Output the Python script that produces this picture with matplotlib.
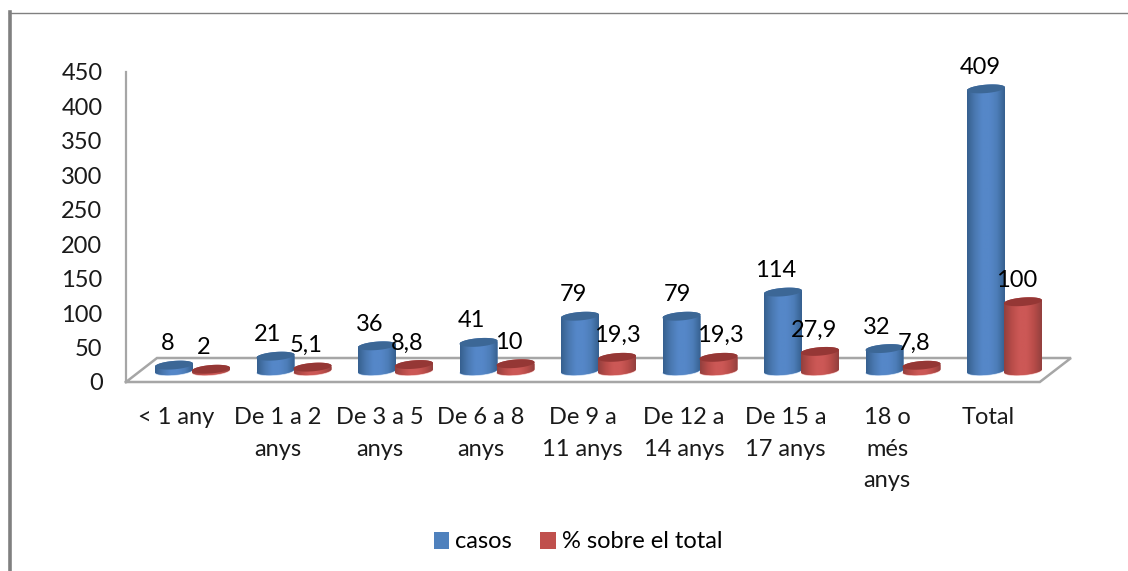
import numpy as np
import matplotlib
matplotlib.use("Agg")
import matplotlib.pyplot as plt
from matplotlib.colors import LinearSegmentedColormap
from matplotlib.lines import Line2D
from matplotlib.patches import Polygon

categories = ["< 1 any", "De 1 a 2\nanys", "De 3 a 5\nanys", "De 6 a 8\nanys", "De 9 a\n11 anys",
              "De 12 a\n14 anys", "De 15 a\n17 anys", "18 o\nmés\nanys", "Total"]
casos = [8, 21, 36, 41, 79, 79, 114, 32, 409]
percent = [2, 5.1, 8.8, 10, 19.3, 19.3, 27.9, 7.8, 100]
percent_labels = ["2", "5,1", "8,8", "10", "19,3", "19,3", "27,9", "7,8", "100"]
yticks = list(range(0, 451, 50))

W, H = 1128, 571
plt.rcParams["font.family"] = ["Lato", "DejaVu Sans"]
fig = plt.figure(figsize=(W / 100, H / 100), dpi=100, facecolor="white")

# Axes box in pixels
L, R, T, B = 126, 1071, 72, 382
ax = fig.add_axes([L / W, 1 - B / H, (R - L) / W, (B - T) / H])
STEP = 101.5
ax.set_xlim((L - 174) / STEP, (R - 174) / STEP)
ax.set_ylim(0, 450)
PXY = (B - T) / 450

FLOOR = 16.5          # visual lift of the bar base above the axis line
HALF_W = 19 / STEP
HALF_H = 4.2 / PXY
TILT = 1.5 / PXY
RED_SHIFT = 37 / STEP
GREY = "#a6a6a6"
BLUE, RED = "#4f81bd", "#c0504d"

for s in ["top", "right", "bottom"]:
    ax.spines[s].set_visible(False)
ax.spines["left"].set_color(GREY)
ax.spines["left"].set_linewidth(1.6)
ax.patch.set_alpha(0)

# Floor of the 3D plot
fx = [0, 0.967, 1, 0.0328, 0]
fy = [0, 0, 0.0774, 0.0774, 0]
ax.plot(fx, fy, transform=ax.transAxes, color=GREY, lw=1.8, clip_on=False, zorder=1, solid_joinstyle="miter")

blue_cm = LinearSegmentedColormap.from_list("b", ["#36608f", "#4a78b0", "#5587c8", "#5587c8", "#4d7db8", "#36608f"])
red_cm = LinearSegmentedColormap.from_list("r", ["#93403e", "#b84c49", "#cc5856", "#cc5856", "#b84c49", "#93403e"])
grad = np.linspace(0, 1, 64).reshape(1, -1)


def ellipse(cx, level, t):
    return np.column_stack([cx + HALF_W * np.cos(t), level + HALF_H * np.sin(t) + TILT * np.cos(t)])


def cylinder(cx, value, color, cmap, topcolor, light, z, label=None):
    base, top = FLOOR, FLOOR + value
    # pale rim under the base
    ax.add_patch(Polygon(ellipse(cx, base - 0.8 / PXY, np.linspace(0, 2 * np.pi, 60)),
                         closed=True, fc=light, ec="none", zorder=z))
    outline = np.vstack([ellipse(cx, base, np.linspace(np.pi, 2 * np.pi, 40)),
                         ellipse(cx, top, np.linspace(0, np.pi, 40))])
    clip = Polygon(outline, closed=True, transform=ax.transData, fc="none", ec="none")
    bar = ax.bar(cx, value + HALF_H + TILT, width=2 * HALF_W, bottom=base - HALF_H - TILT,
                 color=color, zorder=z + 0.1, label=label)
    for rect in bar:
        rect.set_clip_path(clip)
    img = ax.imshow(grad, extent=(cx - HALF_W, cx + HALF_W, base - HALF_H - TILT, top + HALF_H + TILT),
                    aspect="auto", cmap=cmap, zorder=z + 0.2, interpolation="bilinear")
    img.set_clip_path(clip)
    ax.add_patch(Polygon(ellipse(cx, top, np.linspace(0, 2 * np.pi, 60)),
                         closed=True, fc=topcolor, ec="none", zorder=z + 0.3))


x = np.arange(len(categories))
for i in x:
    cylinder(i, casos[i], BLUE, blue_cm, "#3c6796", "#b9d0ee", 3 + i, "casos" if i == 0 else None)
    cylinder(i + RED_SHIFT, percent[i], RED, red_cm, "#953735", "#eeb4b2", 3.5 + i,
             "% sobre el total" if i == 0 else None)

ax.set_xlim((L - 174) / STEP, (R - 174) / STEP)
ax.set_ylim(0, 450)

FS = 17
px = 0.72
blue_dx = [-6, -8, -7, -7, -7, -4, -7, -8, -6]
red_dx = [-7, -6, -7, -7, 0, 2, -6, -7, -6]
for i in x:
    ax.annotate(str(casos[i]), (i, FLOOR + casos[i]), xytext=(blue_dx[i] * px, 21.5 * px),
                textcoords="offset points", ha="center", va="center", fontsize=FS, color="black", zorder=30)
    ax.annotate(percent_labels[i], (i + RED_SHIFT, FLOOR + percent[i]), xytext=(red_dx[i] * px, 21.5 * px),
                textcoords="offset points", ha="center", va="center", fontsize=FS, color="black", zorder=30)

ax.set_yticks(yticks)
ax.set_xticks(x + 0.025)
ax.set_xticklabels(categories, fontsize=FS, linespacing=1.62, color="#1a1a1a")
ax.tick_params(axis="x", length=0, pad=25 * px)
ax.tick_params(axis="y", length=0, pad=23.5 * px, labelsize=FS, labelcolor="#1a1a1a")

ax.legend(loc="center", bbox_to_anchor=(578 / W, 1 - 542 / H), bbox_transform=fig.transFigure, ncol=2, frameon=False,
          fontsize=FS, handlelength=0.65, handleheight=0.75, handletextpad=0.25, columnspacing=1.2)

# Frame of the picture
fig.add_artist(Line2D([10 / W, 10 / W], [0, 1 - 12 / H], color="#808080", lw=2.6))
fig.add_artist(Line2D([9 / W, 1], [1 - 12.5 / H, 1 - 12.5 / H], color="#808080", lw=1.0))

fig.savefig("out.png", dpi=100)
